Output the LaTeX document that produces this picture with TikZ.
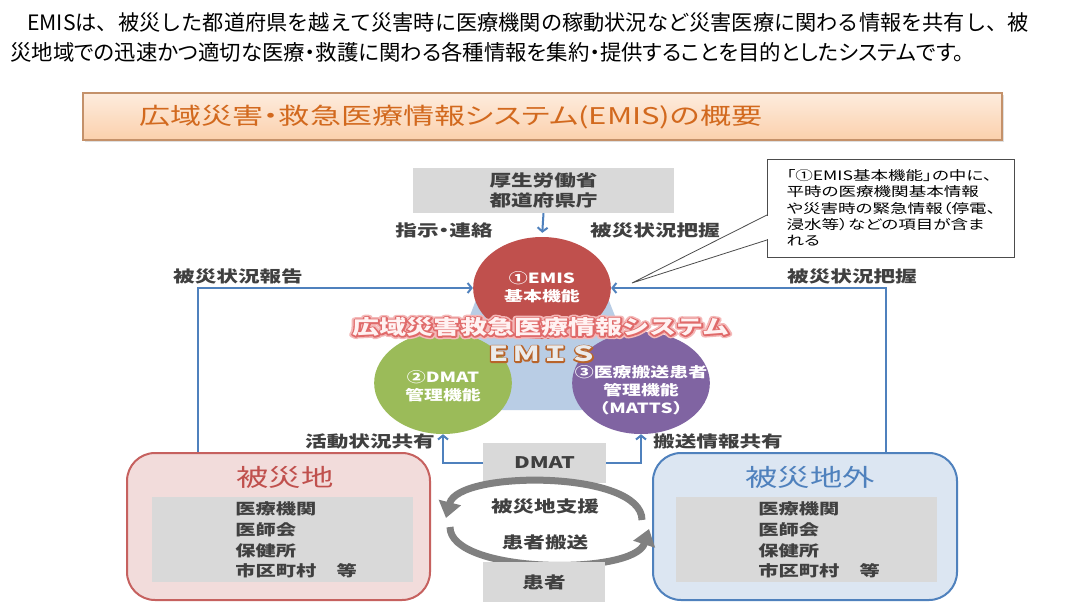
\documentclass[tikz,border=0pt]{standalone}
\usepackage{fontspec}
\setmainfont{Noto Sans CJK JP}
\usepackage{tikz}
\usetikzlibrary{calc,arrows.meta,shadows}

\definecolor{emisred}{HTML}{C0504D}
\definecolor{emisgreen}{HTML}{9BBB59}
\definecolor{emispurple}{HTML}{8064A2}
\definecolor{flowblue}{HTML}{4F81BD}
\definecolor{boxgray}{HTML}{D9D9D9}
\definecolor{inkgray}{HTML}{404040}
\definecolor{tentblue}{HTML}{B9CDE5}
\definecolor{pinkfill}{HTML}{F2DCDB}
\definecolor{skyfill}{HTML}{DCE6F2}
\definecolor{peach}{HTML}{FBD0AC}
\definecolor{peachline}{HTML}{C4916A}
\definecolor{titleorange}{HTML}{D2691E}
\definecolor{wordred}{HTML}{E06A6A}
\definecolor{wordpink}{HTML}{F4B8B8}
\definecolor{wordbrown}{HTML}{B8642A}

\def\propwidth{\addfontfeatures{RawFeature=+palt}}
\def\strokeit#1#2{\special{pdf:literal direct #1 w 1 j 1 Tr}#2\special{pdf:literal direct 0 Tr}}

\tikzset{
	wide/.style={xscale=1.35},
	lead/.style={anchor=west, inner sep=0pt, font=\fontsize{21.2}{26}\selectfont},
	graybox/.style={wide, fill=boxgray, text=inkgray, align=center, inner sep=0pt, font=\bfseries\fontsize{16}{20}\selectfont},
	bubble/.style={wide, circle, minimum size=102pt, inner sep=0pt},
	bubbletext/.style={wide, inner sep=0pt, align=center, text=white, font=\bfseries\fontsize{14}{18}\selectfont},
	tag/.style={wide, inner sep=0pt, text=inkgray, font=\bfseries\fontsize{16}{20}\selectfont\propwidth},
	flow/.style={draw=flowblue, line width=2pt, -{Straight Barb[length=4pt,width=10pt]}},
	area/.style={rounded corners=28pt, line width=2pt, minimum height=147pt},
	listing/.style={wide, anchor=west, align=left, inner sep=0pt, text=inkgray, font=\bfseries\fontsize{15}{20.7}\selectfont},
	wordart/.style={wide, inner sep=0pt, font=\bfseries\fontsize{20}{24}\selectfont},
	emisart/.style={wide, inner sep=0pt, font=\bfseries\fontsize{21}{24}\selectfont},
	turn/.style={draw=black!50, line width=7pt, -{Triangle[length=16pt,width=22pt]}},
}

\begin{document}
\begin{tikzpicture}[x=1pt, y=-1pt]
		%%%%% START %%%%%
		
		\fill[white] (0,0) rectangle (1084,611);
		\useasboundingbox (0,0) rectangle (1084,611);
		
		\node[lead] (introA) at (27,22) {EMISは、被災した都道府県を越えて災害時に医療機関の稼動状況など災害医療に関わる情報を共有し、被};
		\node[lead, font=\fontsize{21.4}{26}\selectfont\propwidth] (introB) at (10,52) {災地域での迅速かつ適切な医療・救護に関わる各種情報を集約・提供することを目的としたシステムです。};
		
		\node[draw=peachline, line width=1.2pt, top color=peach!40!white, bottom color=peach, minimum width=919pt, minimum height=47pt, drop shadow={opacity=0.25, shadow xshift=1.5pt, shadow yshift=-2pt}] (banner) at (542.5,116.5) {};
		\node[wide, anchor=west, inner sep=0pt, text=titleorange, font=\fontsize{23}{26}\selectfont\propwidth] (headline) at (139,117) {広域災害・救急医療情報システム(EMIS)の概要};
		
		% tent behind the three functions
		\fill[tentblue, rounded corners=10pt] (495,250) -- (589,250) -- (652,410) -- (434,410) -- cycle;
		
		\node[bubble, fill=emisred] (emis) at (542,288) {};
		\node[bubble, fill=emisgreen] (dmatfn) at (443,383) {};
		\node[bubble, fill=emispurple] (matts) at (641,383) {};
		\node[bubbletext] (emisTxt) at (542,287) {①EMIS\\基本機能};
		\node[bubbletext] (dmatfnTxt) at (443,386) {②DMAT\\管理機能};
		\node[bubbletext] (mattsTxt) at (641,390) {③医療搬送患者\\管理機能\\（MATTS）};
		
		% word art across the three functions
		\node[wordart, text=wordpink] (artGlow) at (541,327) {\strokeit{5.5}{広域災害救急医療情報システム}};
		\node[wordart, text=wordred] (artRim) at (541,327) {\strokeit{2.6}{広域災害救急医療情報システム}};
		\node[wordart, text=white!95!red] (art) at (541,327) {広域災害救急医療情報システム};
		\node[emisart, text=wordbrown] (emisRim) at (541,354) {\strokeit{2.4}{ＥＭＩＳ}};
		\node[emisart, text=black!8] (emisWord) at (541,354) {ＥＭＩＳ};
		
		\node[graybox, minimum width=193pt, minimum height=45pt] (gov) at (543.5,190.5) {厚生労働省\\都道府県庁};
		\draw[flow, shorten >=4pt] (gov.south) -- (emis.north);
		\node[tag] (order) at (444,230) {指示・連絡};
		\node[tag] (graspTop) at (655,230) {被災状況把握};
		
		% callout
		\node[wide, draw=black!70, fill=white, line width=0.8pt, minimum width=183pt, minimum height=98pt, inner sep=0pt, align=left, font=\fontsize{13}{16.3}\selectfont\propwidth] (note) at (891,208) {「①EMIS基本機能」の中に、\\平時の医療機関基本情報\\や災害時の緊急情報（停電、\\浸水等）などの項目が含ま\\れる};
		\coordinate (tip) at (632,283);
		\draw[draw=black!70, fill=white, line width=0.8pt] ($(note.west)+(0,7)$) -- (tip) -- ($(note.west)+(0,32)$);
		\draw[white, line width=1.6pt] ($(note.west)+(0,8)$) -- ($(note.west)+(0,31)$);
		
		% areas
		\node[area, draw=emisred!90!white, fill=pinkfill, minimum width=303pt] (hisai) at (278.5,526.5) {};
		\node[wide, inner sep=0pt, text=emisred, font=\fontsize{24}{28}\selectfont] (hisaiTitle) at (285,477) {被災地};
		\node[fill=boxgray, minimum width=261pt, minimum height=85pt, inner sep=0pt] (hisaiIn) at (282.5,539.5) {};
		\node[listing] (hisaiList) at (235,540) {医療機関\\医師会\\保健所\\市区町村　等};
		
		\node[area, draw=flowblue, fill=skyfill, minimum width=304pt] (outside) at (805,526.5) {};
		\node[wide, inner sep=0pt, text=flowblue, font=\fontsize{24}{28}\selectfont] (outsideTitle) at (810,477) {被災地外};
		\node[fill=boxgray, minimum width=261pt, minimum height=85pt, inner sep=0pt] (outsideIn) at (806.5,539.5) {};
		\node[listing] (outsideList) at (758,540) {医療機関\\医師会\\保健所\\市区町村　等};
		
		% reports up to the basic function
		\coordinate (repL) at (198,0);
		\coordinate (repR) at (886,0);
		\draw[flow] (hisai.north -| repL) |- (emis.west);
		\draw[flow] (outside.north -| repR) |- (emis.east);
		\node[tag] (report) at (238,276) {被災状況報告};
		\node[tag] (grasp) at (852,276) {被災状況把握};
		
		\node[graybox, minimum width=91pt, minimum height=40pt] (dmat) at (544.5,463) {DMAT};
		\draw[flow] (dmat.west) -| (dmatfn.south);
		\draw[flow] (dmat.east) -| (matts.south);
		\node[tag] (share) at (370,441) {活動状況共有};
		\node[tag] (carry) at (718,441) {搬送情報共有};
		
		% support and transport loop
		\coordinate (supR) at (642,520);
		\coordinate (supL) at (446,518);
		\coordinate (carL) at (450,527);
		\coordinate (carR) at (649,529);
		\draw[turn] (supR) .. controls (642,470) and (458,470) .. (supL);
		\draw[turn] (carL) .. controls (450,574) and (634,576) .. (carR);
		\node[tag] (support) at (545,506) {被災地支援};
		\node[tag] (transport) at (545,542) {患者搬送};
		
		\node[graybox, minimum width=91pt, minimum height=40pt] (patient) at (544,582) {患者};
		
		%%%%% END %%%%%
\end{tikzpicture}
\end{document}
